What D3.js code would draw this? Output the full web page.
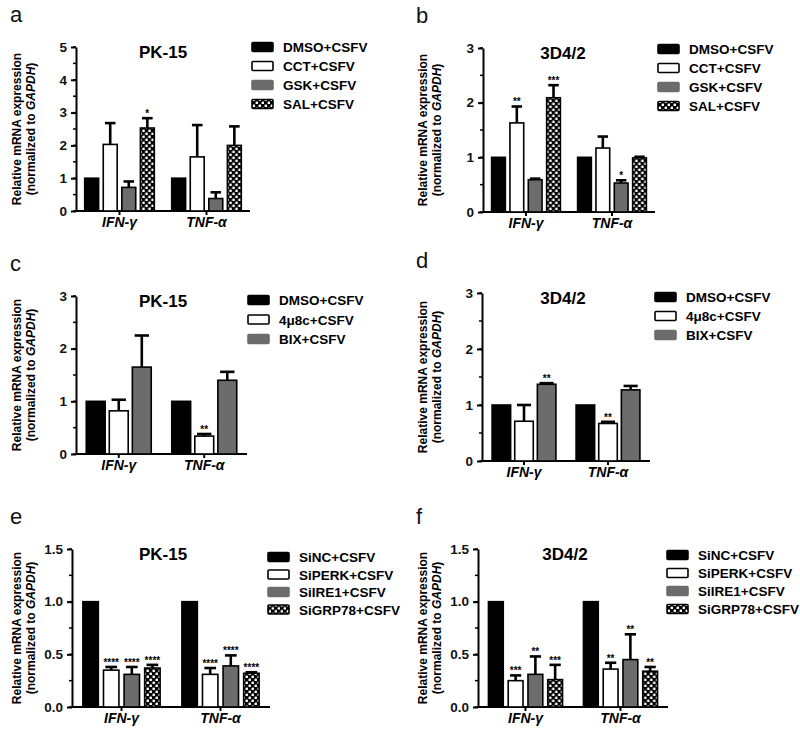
<!DOCTYPE html>
<html><head><meta charset="utf-8">
<script src="https://cdn.jsdelivr.net/npm/d3@7"></script>
<style>
body{margin:0;background:#fff;}
svg{display:block;font-family:"Liberation Sans",Arial,sans-serif;}
</style></head>
<body><svg id="chart" width="800" height="736"></svg>
<script>
// ---------- data ----------
const genes = ["IFN-γ", "TNF-α"];

const seriesAB = ["DMSO+CSFV", "CCT+CSFV", "GSK+CSFV", "SAL+CSFV"];
const seriesCD = ["DMSO+CSFV", "4μ8c+CSFV", "BIX+CSFV"];
const seriesEF = ["SiNC+CSFV", "SiPERK+CSFV", "SiIRE1+CSFV", "SiGRP78+CSFV"];

const titles = ["PK-15", "3D4/2", "PK-15", "3D4/2", "PK-15", "3D4/2"];
const letters = ["a", "b", "c", "d", "e", "f"];

const ticksABCD = [0, 1, 2, 3, 4, 5];
const ticksEF = [0, 0.5, 1.0, 1.5];

// means [gene][series], upper error (SEM), significance
const meanA = [[1, 2.03, 0.72, 2.53], [1, 1.65, 0.38, 2.00]];
const errA  = [[0, 0.65, 0.18, 0.30], [0, 0.97, 0.19, 0.58]];
const sigA  = [["", "", "", "*"], ["", "", "", ""]];

const meanB = [[1, 1.63, 0.59, 2.09], [1, 1.17, 0.53, 0.99]];
const errB  = [[0, 0.30, 0.02, 0.23], [0, 0.21, 0.05, 0.02]];
const sigB  = [["", "**", "", "***"], ["", "", "*", ""]];

const meanC = [[1, 0.82, 1.65], [1, 0.34, 1.40]];
const errC  = [[0, 0.21, 0.60], [0, 0.04, 0.16]];
const sigC  = [["", "", ""], ["", "**", ""]];

const meanD = [[1, 0.71, 1.37], [1, 0.67, 1.27]];
const errD  = [[0, 0.29, 0.02], [0, 0.03, 0.07]];
const sigD  = [["", "", "**"], ["", "**", ""]];

const meanE = [[1, 0.35, 0.31, 0.37], [1, 0.31, 0.39, 0.32]];
const errE  = [[0, 0.03, 0.07, 0.03], [0, 0.06, 0.10, 0.01]];
const sigE  = [["", "****", "****", "****"], ["", "****", "****", "****"]];

const meanF = [[1, 0.25, 0.31, 0.26], [1, 0.36, 0.45, 0.34]];
const errF  = [[0, 0.05, 0.17, 0.14], [0, 0.06, 0.24, 0.04]];
const sigF  = [["", "***", "**", "***"], ["", "**", "**", "**"]];

// ---------- drawing ----------
const svg = d3.select("#chart");
const defs = svg.append("defs");
const pat = defs.append("pattern").attr("id", "checker").attr("patternUnits", "userSpaceOnUse")
  .attr("width", 6).attr("height", 6);
pat.append("rect").attr("width", 6).attr("height", 6).attr("fill", "#000");
pat.append("rect").attr("x", 0.6).attr("y", 0.6).attr("width", 2.4).attr("height", 2.4).attr("fill", "#fff");
pat.append("rect").attr("x", 3.6).attr("y", 3.6).attr("width", 2.4).attr("height", 2.4).attr("fill", "#fff");

const fills = ["#000", "#fff", "#6c6c6c", "url(#checker)"];

const panels = [
  {series: seriesAB, mean: meanA, err: errA, sig: sigA, ymax: 5, ticks: ticksABCD, minor: 0.5, fmt: d3.format("d"),
   ax0: 76, ax1: 250, yTop: 47, yBot: 211, pi: 0.2, gpi: 0.25, lx: 252, ly: 47, lgap: 19, titleX: 163},
  {series: seriesAB, mean: meanB, err: errB, sig: sigB, ymax: 3, ticks: ticksABCD.slice(0, 4), minor: 0.5, fmt: d3.format("d"),
   ax0: 483, ax1: 655, yTop: 48, yBot: 212, pi: 0.2, gpi: 0.25, lx: 658, ly: 49, lgap: 19, titleX: 563},
  {series: seriesCD, mean: meanC, err: errC, sig: sigC, ymax: 3, ticks: ticksABCD.slice(0, 4), minor: 0.5, fmt: d3.format("d"),
   ax0: 76, ax1: 247, yTop: 296, yBot: 454, pi: 0.24, gpi: 0.18, lx: 248, ly: 300, lgap: 19.5, titleX: 163},
  {series: seriesCD, mean: meanD, err: errD, sig: sigD, ymax: 3, ticks: ticksABCD.slice(0, 4), minor: 0.5, fmt: d3.format("d"),
   ax0: 482, ax1: 650, yTop: 293, yBot: 461, pi: 0.24, gpi: 0.18, lx: 655, ly: 297, lgap: 19, titleX: 563},
  {series: seriesEF, mean: meanE, err: errE, sig: sigE, ymax: 1.5, ticks: ticksEF, minor: 0.25, fmt: d3.format(".1f"),
   ax0: 72, ax1: 270, yTop: 549, yBot: 707, pi: 0.22, gpi: 0.25, lx: 268, ly: 557, lgap: 17.5, titleX: 163},
  {series: seriesEF, mean: meanF, err: errF, sig: sigF, ymax: 1.5, ticks: ticksEF, minor: 0.25, fmt: d3.format(".1f"),
   ax0: 478, ax1: 668, yTop: 549, yBot: 707, pi: 0.22, gpi: 0.25, lx: 667, ly: 555, lgap: 18, titleX: 565}
];

panels.forEach((p, i) => {
  const g = svg.append("g");
  const y = d3.scaleLinear().domain([0, p.ymax]).range([p.yBot, p.yTop]);
  const x0 = d3.scaleBand().domain(genes).range([p.ax0, p.ax1]).paddingInner(p.pi).paddingOuter(p.pi / 2);
  const x1 = d3.scaleBand().domain(p.series).range([0, x0.bandwidth()]).paddingInner(p.gpi);

  // panel letter
  const left = i % 2 === 0;
  g.append("text").attr("x", left ? 10 : 416).attr("y", p.yTop - 25)
    .attr("font-size", 22).attr("fill", "#111").text(letters[i]);

  // title
  g.append("text").attr("x", p.titleX).attr("y", p.yTop + 11).attr("text-anchor", "middle")
    .attr("font-size", 17).attr("font-weight", "bold").text(titles[i]);

  // y axis minor ticks
  const minorVals = d3.range(0, p.ymax + 1e-9, p.minor);
  g.append("g").selectAll("line").data(minorVals).join("line")
    .attr("x1", p.ax0 - 3).attr("x2", p.ax0).attr("y1", d => y(d)).attr("y2", d => y(d))
    .attr("stroke", "#000").attr("stroke-width", 1.5);

  // y axis
  const ya = g.append("g").attr("transform", `translate(${p.ax0},0)`)
    .call(d3.axisLeft(y).tickValues(p.ticks).tickFormat(p.fmt).tickSize(5).tickSizeOuter(0));
  ya.select(".domain").attr("stroke-width", 2);
  ya.selectAll(".tick line").attr("stroke-width", 2);
  ya.selectAll(".tick text").attr("font-size", 13.5).attr("font-weight", "bold")
    .attr("font-family", "Liberation Sans, Arial, sans-serif").attr("fill", "#111").attr("dx", -1);

  // x axis
  const xa = g.append("g").attr("transform", `translate(0,${p.yBot})`)
    .call(d3.axisBottom(x0).tickSize(4).tickSizeOuter(0).tickFormat(""));
  xa.select(".domain").attr("stroke-width", 2).attr("d", `M${p.ax0},0H${p.ax1}`);
  xa.selectAll(".tick line").attr("stroke-width", 2);
  g.append("g").selectAll("text").data(genes).join("text")
    .attr("x", d => x0(d) + x0.bandwidth() / 2).attr("y", p.yBot + 16)
    .attr("text-anchor", "middle").attr("font-size", 14).attr("font-weight", "bold")
    .attr("font-style", "italic").text(d => d);

  // y label
  const cy = (p.yTop + p.yBot) / 2;
  const lab = g.append("g").attr("transform", `translate(${left ? 21 : 427},${cy}) rotate(-90)`);
  lab.append("text").attr("text-anchor", "middle").attr("y", 0).attr("font-size", 12)
    .attr("font-weight", "bold").text("Relative mRNA expression");
  const t2 = lab.append("text").attr("text-anchor", "middle").attr("y", 14).attr("font-size", 12)
    .attr("font-weight", "bold");
  t2.append("tspan").text("(normalized to ");
  t2.append("tspan").attr("font-style", "italic").text("GAPDH");
  t2.append("tspan").text(")");

  // bars
  genes.forEach((gene, gi) => {
    const gg = g.append("g").attr("transform", `translate(${x0(gene)},0)`);
    const rows = p.series.map((s, si) => ({s, si, m: p.mean[gi][si], e: p.err[gi][si], sig: p.sig[gi][si]}));
    gg.selectAll("rect").data(rows).join("rect")
      .attr("x", d => x1(d.s)).attr("width", x1.bandwidth())
      .attr("y", d => y(d.m)).attr("height", d => y(0) - y(d.m))
      .attr("fill", d => fills[d.si]).attr("stroke", "#000").attr("stroke-width", 1.6);
    const eb = rows.filter(d => d.e > 0);
    gg.selectAll("line.v").data(eb).join("line").attr("class", "v")
      .attr("x1", d => x1(d.s) + x1.bandwidth() / 2).attr("x2", d => x1(d.s) + x1.bandwidth() / 2)
      .attr("y1", d => y(d.m)).attr("y2", d => y(d.m + d.e))
      .attr("stroke", "#000").attr("stroke-width", 2.6);
    gg.selectAll("line.c").data(eb).join("line").attr("class", "c")
      .attr("x1", d => x1(d.s) + x1.bandwidth() * 0.12).attr("x2", d => x1(d.s) + x1.bandwidth() * 0.88)
      .attr("y1", d => y(d.m + d.e)).attr("y2", d => y(d.m + d.e))
      .attr("stroke", "#000").attr("stroke-width", 2.6);
    gg.selectAll("text.sig").data(rows.filter(d => d.sig)).join("text").attr("class", "sig")
      .attr("x", d => x1(d.s) + x1.bandwidth() / 2).attr("y", d => y(d.m + d.e) - 1)
      .attr("text-anchor", "middle").attr("font-size", 10).attr("font-weight", "bold")
      .attr("fill", "#000").text(d => d.sig);
  });

  // legend
  const lg = g.append("g").attr("transform", `translate(${p.lx},${p.ly})`);
  const li = lg.selectAll("g").data(p.series).join("g")
    .attr("transform", (d, k) => `translate(0,${k * p.lgap})`);
  li.append("rect").attr("x", 0).attr("y", -4.5).attr("width", 21).attr("height", 9)
    .attr("rx", 1).attr("fill", (d, k) => fills[k]).attr("stroke", (d, k) => k === 2 ? "#6c6c6c" : "#000")
    .attr("stroke-width", 1.6);
  li.append("text").attr("x", 31).attr("y", 5).attr("font-size", 13.5).attr("font-weight", "bold")
    .text(d => d);
});
</script></body></html>
